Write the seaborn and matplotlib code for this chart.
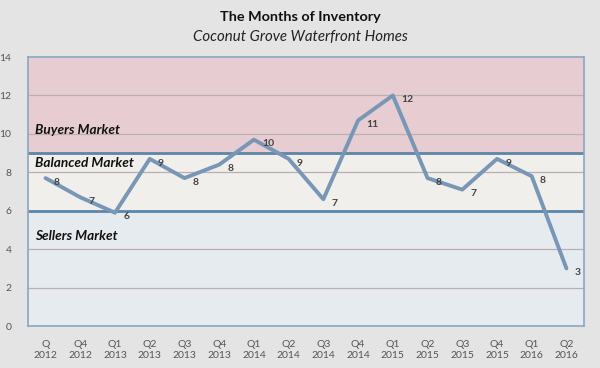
import seaborn as sns
import matplotlib.pyplot as plt
import pandas as pd

# valores
quarters = ["Q\n2012", "Q4\n2012", "Q1\n2013", "Q2\n2013", "Q3\n2013", "Q4\n2013",
            "Q1\n2014", "Q2\n2014", "Q3\n2014", "Q4\n2014", "Q1\n2015", "Q2\n2015",
            "Q3\n2015", "Q4\n2015", "Q1\n2016", "Q2\n2016"]
months = [7.7, 6.7, 5.9, 8.7, 7.7, 8.4, 9.7, 8.7, 6.6, 10.7, 12.0, 7.7, 7.1, 8.7, 7.8, 3.0]
labels = ["8", "7", "6", "9", "8", "8", "10", "9", "7", "11", "12", "8", "7", "9", "8", "3"]

sellers_top = 6
buyers_bottom = 9
y_max = 14

df = pd.DataFrame({"quarter": quarters, "months": months})
df["pos"] = range(len(df))

sns.set_style("white")
plt.rcParams["font.family"] = ["Lato", "DejaVu Sans"]

fig = plt.figure(figsize=(6, 3.68), dpi=100, facecolor="#e4e4e4")
ax = fig.add_axes([0.047, 0.114, 0.926, 0.731])

# bandas de mercado
ax.axhspan(0, sellers_top, color="#e6ebef", zorder=0)
ax.axhspan(sellers_top, buyers_bottom, color="#f1efec", zorder=0)
ax.axhspan(buyers_bottom, y_max, color="#e7cdd1", zorder=0)
for y in range(2, y_max, 2):
    ax.axhline(y, color="#b9aeb0", lw=0.9, zorder=1)
ax.axhline(sellers_top, color="#5d85a8", lw=2, zorder=2)
ax.axhline(buyers_bottom, color="#5d85a8", lw=2, zorder=2)

sns.lineplot(data=df, x="pos", y="months", ax=ax, color="#7896b6", lw=2.8, zorder=3)

for x, y, t in zip(df["pos"], df["months"], labels):
    ax.annotate(t, (x, y), xytext=(6, -3), textcoords="offset points",
                ha="left", va="center", fontsize=7.5, fontweight="bold", color="#444444")

band_style = dict(fontsize=9.8, fontweight="bold", style="italic", color="#111111", va="center")
ax.text(-0.3, 10.2, "Buyers Market", **band_style)
ax.text(-0.3, 8.5, "Balanced Market", **band_style)
ax.text(-0.3, 4.7, "Sellers Market", **band_style)

ax.set_xlim(-0.5, len(quarters) - 0.5)
ax.set_ylim(0, y_max)
ax.set_xticks(df["pos"])
ax.set_xticklabels(quarters, fontsize=7.5, color="#555555", linespacing=1.3)
ax.set_yticks(range(0, y_max + 1, 2))
ax.set_yticklabels(range(0, y_max + 1, 2), fontsize=7.5, color="#555555")
ax.tick_params(axis="x", length=0, pad=10)
ax.tick_params(axis="y", length=0, pad=12)
ax.set_xlabel("")
ax.set_ylabel("")
for s in ax.spines.values():
    s.set_color("#8aa6c4")
    s.set_linewidth(1.2)

fig.text(0.5, 0.953, "The Months of Inventory", ha="center", va="center",
         fontsize=10.4, fontweight="bold", color="#111111")
fig.text(0.5, 0.9, "Coconut Grove Waterfront Homes", ha="center", va="center",
         fontsize=10.8, style="italic", color="#222222")

fig.savefig("out.png", dpi=100, facecolor=fig.get_facecolor())
